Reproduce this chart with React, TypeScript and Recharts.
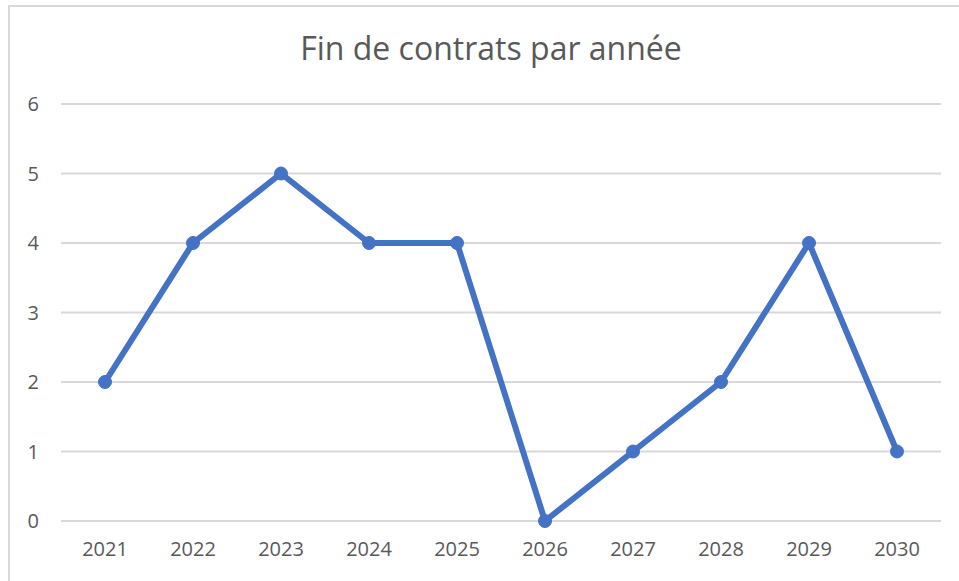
import { LineChart, Line, XAxis, YAxis, CartesianGrid } from "recharts";

const years = ["2021", "2022", "2023", "2024", "2025", "2026", "2027", "2028", "2029", "2030"];
const contrats = [2, 4, 5, 4, 4, 0, 1, 2, 4, 1];
const yTicks = [0, 1, 2, 3, 4, 5, 6];

const data = years.map((year, i) => ({ year, value: contrats[i] }));

const font = "'Open Sans', 'Noto Sans', sans-serif";

export default function App() {
  return (
    <div style={{ position: "absolute", left: 0, top: 0, width: 959, height: 581, overflow: "hidden", background: "#fff", fontFamily: font }}>
      <div
        style={{
          position: "absolute",
          left: 8,
          top: 5,
          width: 980,
          height: 600,
          border: "2px solid #d9d9d9",
          boxSizing: "border-box",
        }}
      />
      <div
        style={{
          position: "absolute",
          left: 0,
          width: 982,
          top: 26,
          textAlign: "center",
          fontSize: 32,
          lineHeight: "normal",
          color: "#595959",
        }}
      >
        Fin de contrats par année
      </div>
      <LineChart
        width={959}
        height={581}
        data={data}
        margin={{ top: 104, right: 18, bottom: 0, left: 0 }}
        style={{ position: "absolute", left: 0, top: 0 }}
      >
        <CartesianGrid vertical={false} stroke="#d9d9d9" strokeWidth={2} />
        <XAxis
          dataKey="year"
          height={60}
          padding={{ left: 44, right: 44 }}
          axisLine={false}
          tickLine={false}
          tickSize={0}
          tickMargin={21}
          interval={0}
          tick={{ fill: "#595959", fontSize: 20, fontFamily: font }}
        />
        <YAxis
          width={61}
          domain={[0, 6]}
          ticks={yTicks}
          axisLine={false}
          tickLine={false}
          tickSize={0}
          tickMargin={22}
          tick={{ fill: "#595959", fontSize: 20, fontFamily: font }}
        />
        <Line
          dataKey="value"
          stroke="#4472c4"
          strokeWidth={6}
          strokeLinejoin="round"
          dot={{ r: 6.5, fill: "#4472c4", stroke: "#4472c4", strokeWidth: 1 }}
          isAnimationActive={false}
        />
      </LineChart>
    </div>
  );
}
